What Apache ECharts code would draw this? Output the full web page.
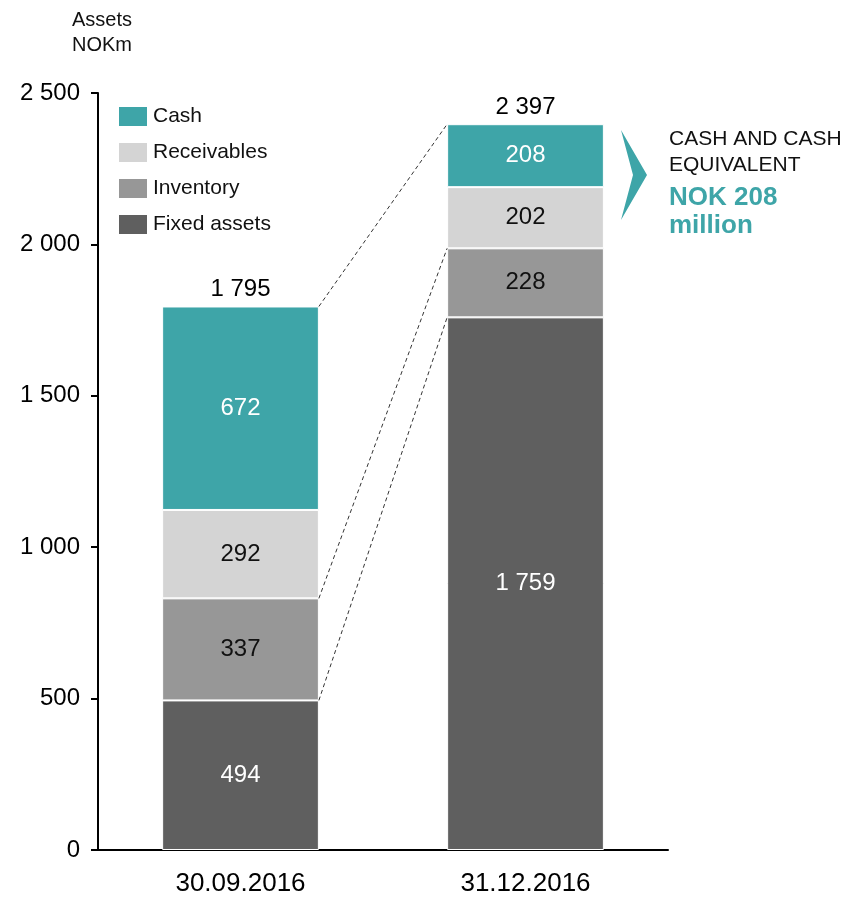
<!DOCTYPE html>
<html>
<head>
<meta charset="utf-8">
<script src="https://cdn.jsdelivr.net/npm/echarts@6/dist/echarts.min.js"></script>
<style>
  html, body { margin: 0; padding: 0; background: #fff; }
  #chart { width: 846px; height: 897px; }
</style>
</head>
<body>
<div id="chart"></div>
<script>
var categories = ['30.09.2016', '31.12.2016']
var fixedAssets = [494, 1759]
var inventory = [337, 228]
var receivables = [292, 202]
var cash = [672, 208]
var totals = [1795, 2397]
var yTicks = [0, 500, 1000, 1500, 2000, 2500]

var FONT = '"Liberation Sans", Arial, sans-serif'
var TEAL = '#3ea5a8'

function fmt (v) {
  return String(v).replace(/\B(?=(\d{3})+(?!\d))/g, ' ')
}

function barSeries (name, data, color, labelColor) {
  return {
    name: name,
    type: 'bar',
    stack: 'assets',
    data: data,
    barWidth: '55%',
    itemStyle: { color: color, borderColor: '#fff', borderWidth: 1 },
    label: {
      show: true,
      position: 'inside',
      color: labelColor,
      fontSize: 24,
      fontFamily: FONT,
      formatter: function (p) { return fmt(p.value) }
    },
    emphasis: { disabled: true }
  }
}

var chart = echarts.init(document.getElementById('chart'))
var option = {
  animation: false,
  textStyle: { fontFamily: FONT },
  grid: { left: 98, right: 178, top: 93, bottom: 46, containLabel: false },
  legend: {
    data: ['Cash', 'Receivables', 'Inventory', 'Fixed assets'],
    orient: 'vertical',
    left: 112,
    top: 100,
    itemWidth: 30,
    itemHeight: 21,
    itemGap: 13,
    icon: 'rect',
    textStyle: { fontSize: 21, color: '#111', fontFamily: FONT }
  },
  xAxis: {
    type: 'category',
    data: categories,
    axisLine: { lineStyle: { color: '#000', width: 2 } },
    axisTick: { show: false },
    axisLabel: { color: '#000', fontSize: 26, margin: 21, fontFamily: FONT }
  },
  yAxis: {
    type: 'value',
    min: yTicks[0],
    max: yTicks[yTicks.length - 1],
    interval: 500,
    splitLine: { show: false },
    axisLine: { show: true, lineStyle: { color: '#000', width: 2 } },
    axisTick: { show: true, length: 7, lineStyle: { color: '#000', width: 2 } },
    axisLabel: {
      color: '#000', fontSize: 24, margin: 18, fontFamily: FONT,
      formatter: function (v) { return fmt(v) }
    }
  },
  series: [
    barSeries('Fixed assets', fixedAssets, '#5f5f5f', '#fff'),
    barSeries('Inventory', inventory, '#979797', '#111'),
    barSeries('Receivables', receivables, '#d4d4d4', '#111'),
    barSeries('Cash', cash, TEAL, '#fff'),
    {
      name: 'Total',
      type: 'bar',
      stack: 'assets',
      data: totals.map(function () { return 0 }),
      barWidth: '55%',
      itemStyle: { color: 'transparent' },
      label: {
        show: true,
        position: 'top',
        distance: 5,
        color: '#000',
        fontSize: 24,
        fontFamily: FONT,
        formatter: function (p) { return fmt(totals[p.dataIndex]) }
      },
      emphasis: { disabled: true }
    }
  ],
  graphic: [
    {
      type: 'text',
      left: 72,
      top: 8,
      style: { text: 'Assets\nNOKm', lineHeight: 25, fill: '#111', font: '20px ' + FONT }
    },
    {
      type: 'polygon',
      shape: { points: [[621, 130], [647, 175], [621, 220], [633, 175]] },
      style: { fill: TEAL }
    },
    {
      type: 'text',
      left: 669,
      top: 126,
      style: { text: 'CASH AND CASH\nEQUIVALENT', lineHeight: 26, fill: '#111', font: '21px ' + FONT }
    },
    {
      type: 'text',
      left: 669,
      top: 184,
      style: { text: 'NOK 208\nmillion', lineHeight: 28, fill: TEAL, font: 'bold 26px ' + FONT }
    }
  ]
}
chart.setOption(option)

// dashed connectors between the two stacks, from the library's own scale
function connectors () {
  var c0 = chart.convertToPixel({ gridIndex: 0 }, [0, 0])
  var c1 = chart.convertToPixel({ gridIndex: 0 }, [1, 0])
  var half = (c1[0] - c0[0]) * 0.55 / 2
  var leftLevels = [totals[0], fixedAssets[0] + inventory[0], fixedAssets[0]]
  var rightLevels = [totals[1], fixedAssets[1] + inventory[1], fixedAssets[1]]
  var els = leftLevels.map(function (lv, i) {
    var a = chart.convertToPixel({ gridIndex: 0 }, [0, lv])
    var b = chart.convertToPixel({ gridIndex: 0 }, [1, rightLevels[i]])
    return {
      type: 'line',
      shape: { x1: a[0] + half, y1: a[1], x2: b[0] - half, y2: b[1] },
      style: { stroke: '#333', lineWidth: 1, lineDash: [4, 3] },
      z: 10
    }
  })
  chart.setOption({ graphic: option.graphic.concat(els) })
}
connectors()
</script>
</body>
</html>
